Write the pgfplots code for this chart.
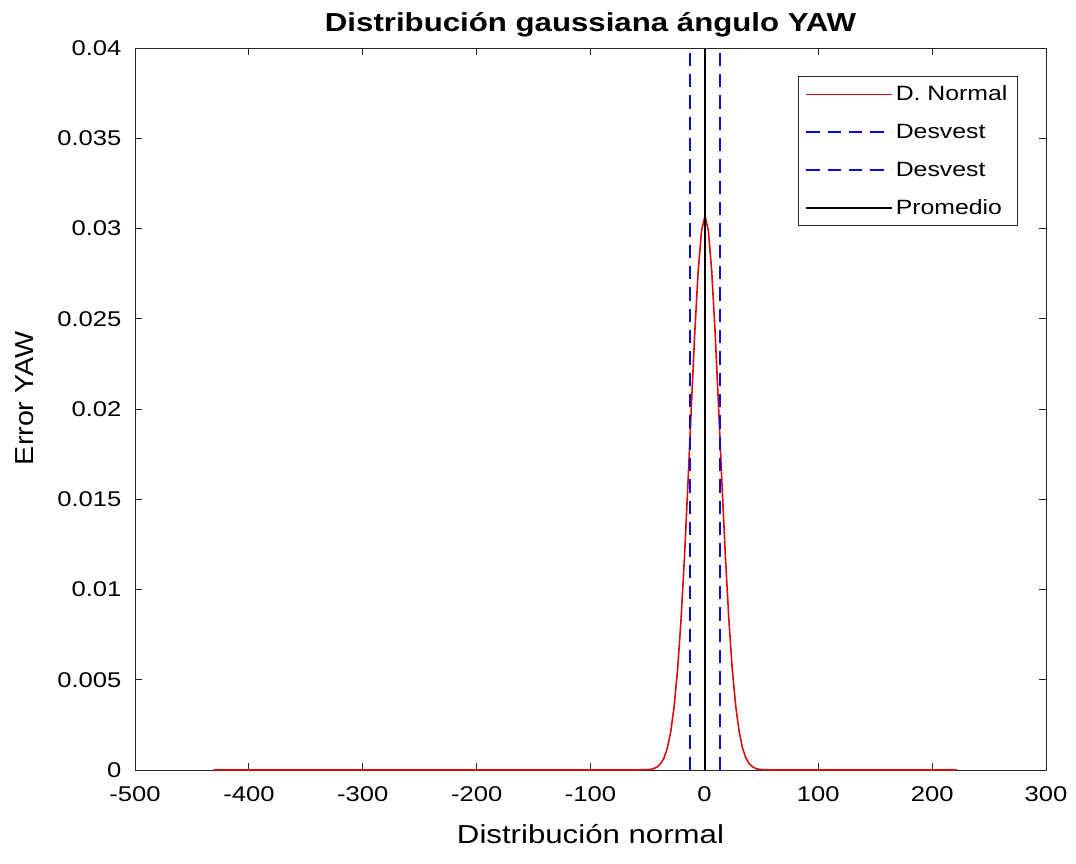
\documentclass[border=0pt]{standalone}
\usepackage{pgfplots}
\pgfplotsset{compat=1.18}
\usepackage{fontspec}
\setmainfont{Liberation Sans}
\definecolor{axgray}{gray}{0.15}
\definecolor{myred}{rgb}{0.85,0.05,0.05}
\definecolor{myblue}{rgb}{0.05,0.05,0.85}
\begin{document}
\begin{tikzpicture}
\begin{axis}[
  scale only axis,
  width=683.25pt, height=541.5pt,
  xmin=-500, xmax=300, ymin=0, ymax=0.04,
  xtick={-500,-400,...,300},
  ytick={0,0.005,...,0.04},
  yticklabels={0,0.005,0.01,0.015,0.02,0.025,0.03,0.035,0.04},
  scaled y ticks=false,
  /pgf/number format/assume math mode=true,
  tick align=inside,
  tick pos=both,
  major tick length=5pt,
  axis line style={draw=axgray, line width=0.7pt},
  tick style={draw=axgray, line width=0.7pt},
  tick label style={font=\fontsize{16}{18}\selectfont, xscale=1.2},
  xticklabel style={yshift=-9pt},
  yticklabel style={xshift=-5pt},
  xlabel={Distribución normal},
  ylabel={Error YAW},
  label style={font=\fontsize{19.5}{22}\selectfont},
  xlabel style={yshift=-10pt, xscale=1.2},
  ylabel style={yshift=10pt, xshift=8pt, xscale=1.1},
  title={Distribución gaussiana ángulo YAW},
  title style={font=\bfseries\fontsize{19.5}{22}\selectfont, yshift=-1pt, xscale=1.2},
  legend style={at={(0.969,0.961)}, anchor=north east, draw=axgray, line width=0.7pt,
    font=\fontsize{15.5}{18}\selectfont, inner sep=5pt, row sep=12pt,
    legend cell align=left, nodes={xscale=1.2, inner xsep=2pt}},
  legend image code/.code={\draw[#1] (0pt,0pt) -- (64pt,0pt);},
]
\addplot[color=myred, line width=1.2pt] coordinates {
(-431,0) (-60,0) (-47.5,0.00003) (-44.5,0.000077) (-41.5,0.00017) (-38.5,0.00034)
(-35.5,0.00066) (-32.5,0.00122) (-29.5,0.00214) (-26.5,0.00355) (-23.5,0.00558)
(-20.5,0.00832) (-17.5,0.01177) (-14.5,0.01577) (-11.5,0.02004) (-8.5,0.02415)
(-5.5,0.02759) (-2.5,0.02988) (0.5,0.03069) (3.5,0.02988) (6.5,0.02759)
(9.5,0.02415) (12.5,0.02004) (15.5,0.01577) (18.5,0.01177) (21.5,0.00832)
(24.5,0.00558) (27.5,0.00355) (30.5,0.00214) (33.5,0.00122) (36.5,0.00066)
(39.5,0.00034) (42.5,0.00017) (45.5,0.000077) (48.5,0.00003) (60,0) (222,0)
};
\addlegendentry{D. Normal}
\addplot[color=myblue, line width=1.6pt, dash pattern=on 10pt off 6pt] coordinates {(-12.5,0) (-12.5,0.04)};
\addlegendentry{Desvest}
\addplot[color=myblue, line width=1.6pt, dash pattern=on 10pt off 6pt] coordinates {(13.5,0) (13.5,0.04)};
\addlegendentry{Desvest}
\addplot[color=black, line width=1.1pt] coordinates {(0.5,0) (0.5,0.04)};
\addlegendentry{Promedio}
\end{axis}
\path (current axis.south west) ++(-101.25pt,-69.75pt) coordinate (bbsw);
\path (current axis.north east) ++(22.5pt,36pt) coordinate (bbne);
\path (bbsw) rectangle (bbne);
\end{tikzpicture}
\end{document}
